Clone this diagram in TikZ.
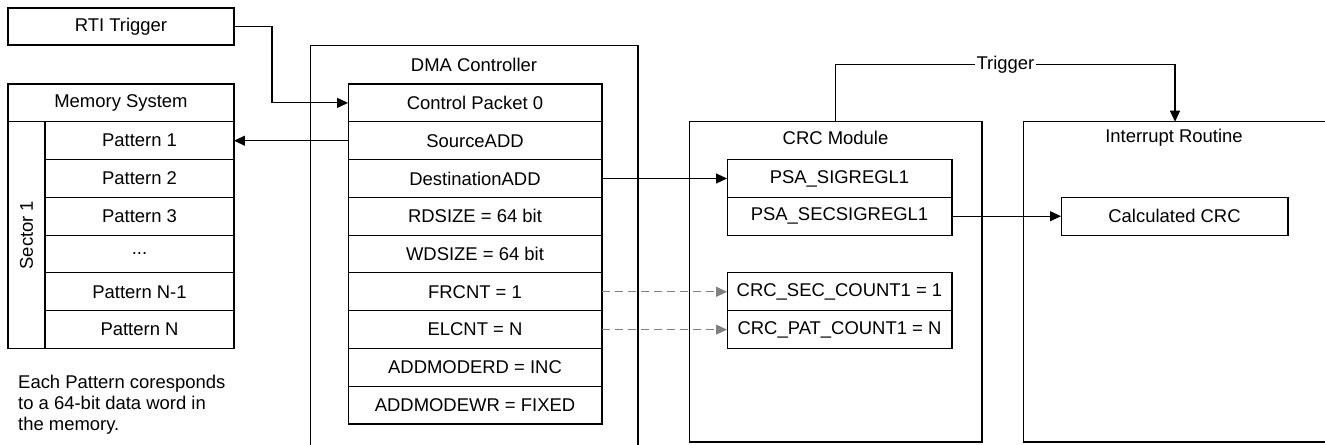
\documentclass[tikz,border=0pt]{standalone}
\usepackage{fontspec}
\setmainfont{Liberation Sans}
\usetikzlibrary{arrows.meta}

\tikzset{
  cell/.style={draw=black, line width=0.6pt, inner sep=0pt, outer sep=0pt, minimum height=0.756cm},
  panel/.style={draw=black, line width=0.6pt, inner sep=0pt, outer sep=0pt},
  flow/.style={line width=0.6pt, -{Triangle[length=0.22cm, width=0.2cm]}},
  hint/.style={flow, color=black!50, dash pattern=on 0.16cm off 0.1cm},
}

\begin{document}
\begin{tikzpicture}[x=0.02cm, y=-0.02cm, font=\fontsize{10.5}{12.6}\selectfont]
\useasboundingbox (0,0) rectangle (1325,444);
\clip (0,0) rectangle (1325,444);

% trigger and memory
\node[cell, minimum width=4.52cm, minimum height=0.74cm] (rti) at (121,26.5) {RTI Trigger};
\node[cell, minimum width=4.52cm] (mem) at (121,102.9) {Memory System};
\node[cell, minimum width=0.74cm, minimum height=4.534cm] (sector) at (26.5,235.15) {\rotatebox{90}{Sector 1}};
\node[cell, minimum width=3.78cm] (pat1) at (139.5,140.7) {Pattern 1};
\node[cell, minimum width=3.78cm] (pat2) at (139.5,178.5) {Pattern 2};
\node[cell, minimum width=3.78cm] (pat3) at (139.5,216.2) {Pattern 3};
\node[cell, minimum width=3.78cm] (patdots) at (139.5,254.0) {...};
\node[cell, minimum width=3.78cm] (patn1) at (139.5,291.8) {Pattern N-1};
\node[cell, minimum width=3.78cm] (patn) at (139.5,329.6) {Pattern N};
\node[align=left, anchor=west, font=\fontsize{10.5}{12}\selectfont] (note) at (12,405) {Each Pattern coresponds\\to a 64-bit data word in\\the memory.};

% dma controller
\node[panel, minimum width=6.56cm, minimum height=9.09cm] (dma) at (474,273) {};
\node (dmatitle) at (474,65) {DMA Controller};
\node[cell, minimum width=5.08cm] (cp0) at (475,102.9) {Control Packet 0};
\node[cell, minimum width=5.08cm] (src) at (475,140.7) {SourceADD};
\node[cell, minimum width=5.08cm] (dst) at (475,178.5) {DestinationADD};
\node[cell, minimum width=5.08cm] (rdsize) at (475,216.2) {RDSIZE = 64 bit};
\node[cell, minimum width=5.08cm] (wdsize) at (475,254.0) {WDSIZE = 64 bit};
\node[cell, minimum width=5.08cm] (frcnt) at (475,291.8) {FRCNT = 1};
\node[cell, minimum width=5.08cm] (elcnt) at (475,329.6) {ELCNT = N};
\node[cell, minimum width=5.08cm] (modrd) at (475,367.4) {ADDMODERD = INC};
\node[cell, minimum width=5.08cm] (modwr) at (475,405.1) {ADDMODEWR = FIXED};

% crc module
\node[panel, minimum width=5.86cm, minimum height=6.406cm] (crc) at (835.5,281.85) {};
\node (crctitle) at (835.5,138) {CRC Module};
\node[cell, minimum width=4.5cm] (sig) at (839.5,178.5) {PSA\_SIGREGL1};
\node[cell, minimum width=4.5cm] (secsig) at (839.5,216.2) {PSA\_SECSIGREGL1};
\node[cell, minimum width=4.5cm] (seccnt) at (839.5,291.8) {CRC\_SEC\_COUNT1 = 1};
\node[cell, minimum width=4.5cm] (patcnt) at (839.5,329.6) {CRC\_PAT\_COUNT1 = N};

% interrupt routine
\node[panel, minimum width=6.08cm, minimum height=6.406cm] (isr) at (1175,281.85) {};
\node (isrtitle) at (1174,138) {Interrupt Routine};
\node[cell, minimum width=4.54cm] (calc) at (1174.5,216.2) {Calculated CRC};
\node[inner sep=0.5pt] (trig) at (1005.5,64.5) {Trigger};

% connections
\draw[flow] (rti.east) -- ++(38,0) |- (cp0.west);
\draw[flow] (src.west) -- (pat1.east);
\draw[flow] (dst.east) -- (sig.west);
\draw[flow] (secsig.east) -- (calc.west);
\draw[hint] (frcnt.east) -- (seccnt.west);
\draw[hint] (elcnt.east) -- (patcnt.west);
\draw[line width=0.6pt] (crc.north) |- (trig.west);
\draw[flow] (trig.east) -| (isr.north);
\end{tikzpicture}
\end{document}
